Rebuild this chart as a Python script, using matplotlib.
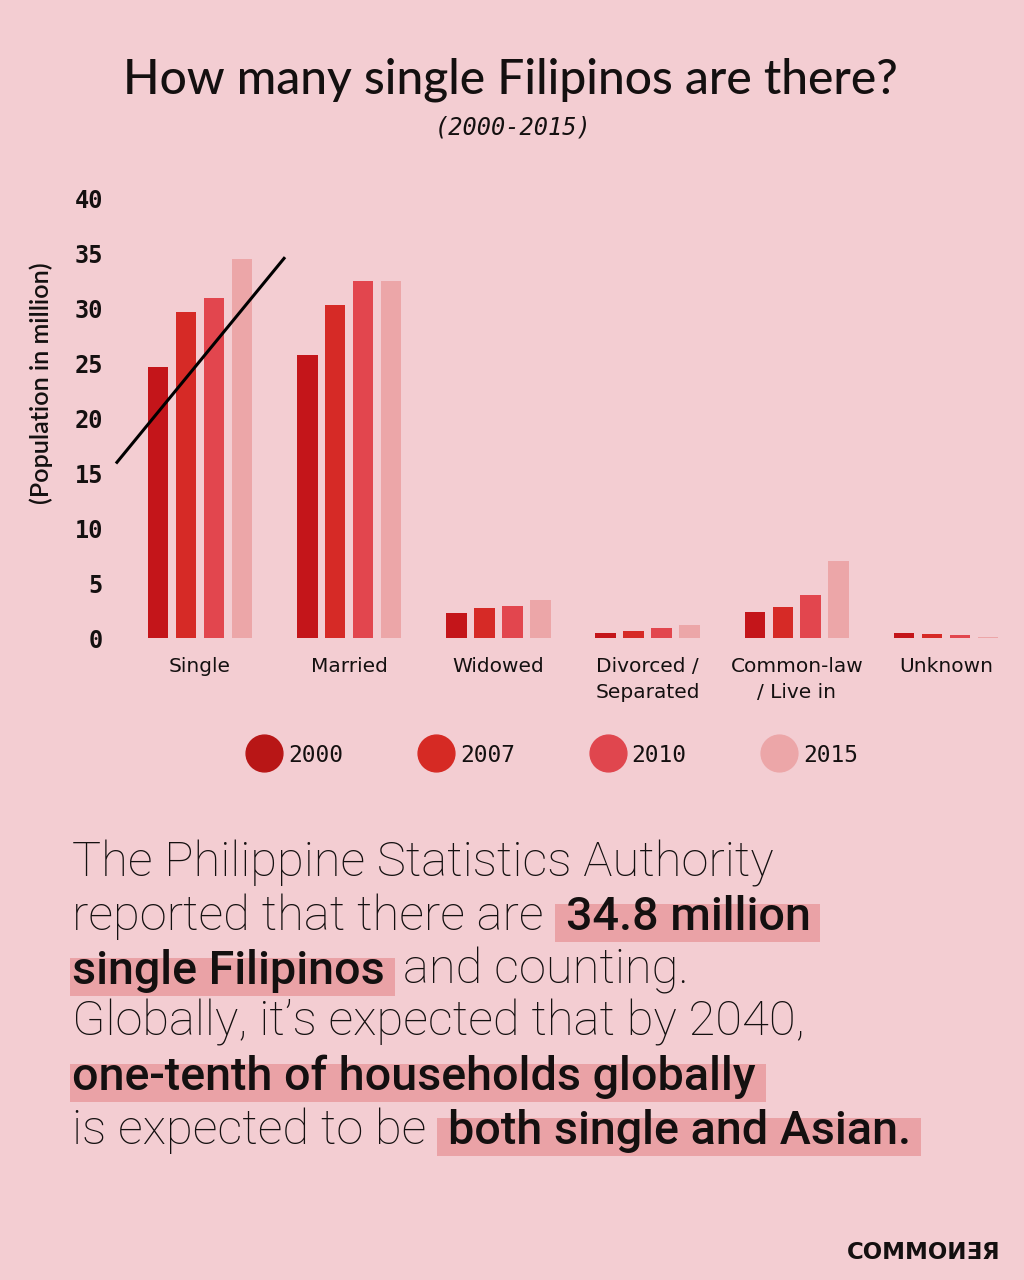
import matplotlib
matplotlib.use('Agg')
import matplotlib.pyplot as plt
from matplotlib.lines import Line2D
from matplotlib.patches import Rectangle
import numpy as np

# ---------------- data ----------------
categories = ['Single', 'Married', 'Widowed', 'Divorced /\nSeparated',
              'Common-law\n/ Live in', 'Unknown']
years = ['2000', '2007', '2010', '2015']
pop_2000 = [24.7, 25.8, 2.25, 0.46, 2.37, 0.46]
pop_2007 = [29.7, 30.3, 2.74, 0.67, 2.86, 0.34]
pop_2010 = [31.0, 32.5, 2.95, 0.89, 3.95, 0.25]
pop_2015 = [34.5, 32.5, 3.47, 1.16, 7.06, 0.12]
y_ticks = [0, 5, 10, 15, 20, 25, 30, 35, 40]
trend_x = [-0.563, 0.570]
trend_y = [15.9, 34.7]

title = 'How many single Filipinos are there?'
subtitle = '(2000-2015)'
y_label = '(Population in million)'
body_lines = [
    [("The Philippine Statistics Authority", False)],
    [("reported that there are", False), ("34.8 million", True)],
    [("single Filipinos", True), ("and counting.", False)],
    [("Globally, it\u2019s expected that by 2040,", False)],
    [("one-tenth of households globally", True)],
    [("is expected to be", False), ("both single and Asian.", True)],
]
logo = 'COMMO\u0418\u018E\u042F'

# ---------------- style ----------------
W, H = 1024, 1280
BG = '#f3cdd2'
COLORS = ['#c4151a', '#d62a26', '#e2464e', '#eca6a8']
LEG_COLORS = ['#b81616', '#d62a24', '#e0464e', '#eca6a8']
HL = '#eaa2a6'
TXT = '#141010'
MONO = ['DejaVu Sans Mono']
SANS = ['Lato', 'DejaVu Sans']
BODY = ['Roboto', 'DejaVu Sans']

fig = plt.figure(figsize=(W / 100, H / 100), dpi=100, facecolor=BG)
renderer = fig.canvas.get_renderer()

def fx(px):
    return px / W

def fy(py):
    return 1 - py / H

def fit_size(txt, target, family, weight='normal', style='normal', s0=30):
    t = fig.text(0, 0, txt, fontsize=s0, family=family, fontweight=weight,
                 fontstyle=style)
    w = t.get_window_extent(renderer).width
    t.remove()
    return s0 * target / w

# ---------------- chart ----------------
ax = fig.add_axes([fx(110), fy(638), fx(900), (638 - 199) / H])
ax.set_facecolor('none')
x = np.arange(len(categories))
step, width = 0.1875, 0.138
series = [pop_2000, pop_2007, pop_2010, pop_2015]
for i, (vals, col) in enumerate(zip(series, COLORS)):
    ax.bar(x + (i - 1.5) * step, vals, width, color=col, zorder=2)

ax.plot(trend_x, trend_y, color='black', lw=2.2, zorder=3, solid_capstyle='butt')

ax.set_xlim(-0.603, 5.429)
ax.set_ylim(0, 40)
ax.set_yticks(y_ticks)
ax.set_yticklabels([str(v) for v in y_ticks], family=MONO, fontsize=17,
                   fontweight='bold', color=TXT)
ax.set_xticks(x)
ax.set_xticklabels(categories, family=['DejaVu Sans'], fontsize=14.5,
                   color=TXT, linespacing=1.45, va='top')
ax.tick_params(axis='y', length=0, pad=5)
ax.tick_params(axis='x', length=0, pad=14)
for s in ax.spines.values():
    s.set_visible(False)

ys = fit_size(y_label, 240, SANS, weight='semibold')
fig.text(fx(41), fy(383), y_label, rotation=90, ha='center', va='center',
         fontsize=ys, family=SANS, fontweight='semibold', color=TXT)

# legend
handles = [Line2D([], [], marker='o', linestyle='', markersize=26.5,
                  markerfacecolor=c, markeredgecolor=c) for c in LEG_COLORS]
fig.legend(handles, years, loc='center', bbox_to_anchor=(fx(552), fy(755)),
           ncol=4, frameon=False, prop={'family': MONO, 'size': 16.5},
           handlelength=1.6, handletextpad=0.25, columnspacing=3.25,
           labelcolor=TXT)

# ---------------- title ----------------
ts = fit_size(title, 774, SANS, weight='medium')
fig.text(fx(510.5), fy(93.3), title, ha='center', va='baseline',
         fontsize=ts, family=SANS, fontweight='medium', color=TXT)
fig.text(fx(513), fy(135), subtitle, ha='center', va='baseline',
         fontsize=17, family=MONO, fontstyle='oblique', color=TXT)

# ---------------- body text ----------------
bs = fit_size(body_lines[0][0][0], 701, BODY, weight='light')
baselines = [876.7, 930, 984, 1036, 1090, 1144]
for runs, base in zip(body_lines, baselines):
    xpos = 72
    for i, (txt, hl) in enumerate(runs):
        if i > 0:
            xpos += 22 if hl else 18
        t = fig.text(fx(xpos), fy(base), txt, ha='left', va='baseline',
                     fontsize=bs * (0.955 if hl else 1.0), family=BODY,
                     fontweight='medium' if hl else 'light', color=TXT,
                     zorder=3)
        w = t.get_window_extent(renderer).width
        if hl:
            left = xpos - (11 if i > 0 else 2)
            right = xpos + w + 10
            fig.add_artist(Rectangle((fx(left), fy(base + 12)), fx(right - left),
                                     38 / H, facecolor=HL, edgecolor='none',
                                     zorder=1))
        xpos += w

# ---------------- logo ----------------
fig.text(fx(1000), fy(1259), logo, ha='right', va='baseline', fontsize=16.5,
         family=['DejaVu Sans'], fontweight='bold', color=TXT)

fig.savefig('out.png', dpi=100, facecolor=BG)
